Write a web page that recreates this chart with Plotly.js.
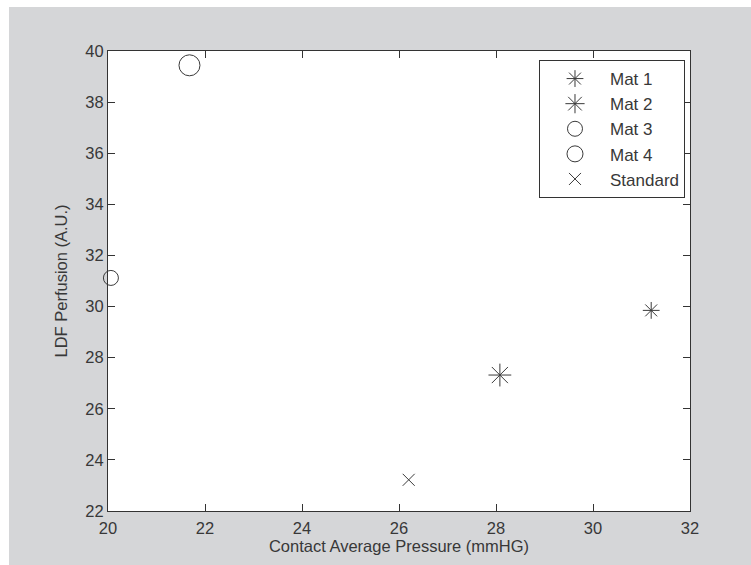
<!DOCTYPE html>
<html>
<head>
<meta charset="utf-8">
<script src="https://cdn.plot.ly/plotly-3.0.1.min.js"></script>
<style>
  html, body { margin: 0; padding: 0; background: #ffffff; width: 751px; height: 565px; overflow: hidden; }
  #chart { position: absolute; left: 9px; top: 7px; width: 742px; height: 558px; }
</style>
</head>
<body>
<div id="chart"></div>
<script>
// Data
const seriesNames = ["Mat 1", "Mat 2", "Mat 3", "Mat 4", "Standard"];
const mat1X = [31.2];   const mat1Y = [29.85];
const mat2X = [28.08];  const mat2Y = [27.32];
const mat3X = [20.06];  const mat3Y = [31.12];
const mat4X = [21.68];  const mat4Y = [39.44];
const stdX  = [26.2];   const stdY  = [23.22];
const xTicks = [20, 22, 24, 26, 28, 30, 32];
const yTicks = [22, 24, 26, 28, 30, 32, 34, 36, 38, 40];

const ink = '#3a3a3a';
const txt = '#383838';
const fontFam = '"Liberation Sans", Arial, sans-serif';

function mk(name, xs, ys, symbol, size) {
  return {
    type: 'scatter', mode: 'markers', name: name, x: xs, y: ys,
    cliponaxis: false,
    marker: { symbol: symbol, size: size, color: ink, line: { color: ink, width: 1 } }
  };
}

const data = [
  mk(seriesNames[0], mat1X, mat1Y, 'asterisk-open', 14),
  mk(seriesNames[1], mat2X, mat2Y, 'asterisk-open', 19),
  mk(seriesNames[2], mat3X, mat3Y, 'circle-open', 15),
  mk(seriesNames[3], mat4X, mat4Y, 'circle-open', 21),
  mk(seriesNames[4], stdX, stdY, 'x-thin-open', 12)
];

const axisCommon = {
  showgrid: false, zeroline: false, showline: true, linecolor: '#333333', linewidth: 1,
  mirror: 'ticks', ticks: 'inside', ticklen: 7, tickcolor: '#333333', tickwidth: 1,
  tickfont: { family: fontFam, size: 16.5, color: txt }, fixedrange: true
};

const layout = {
  width: 742, height: 558,
  paper_bgcolor: '#d5d6d8', plot_bgcolor: '#ffffff',
  margin: { l: 99, r: 61, t: 44, b: 54, pad: 0 },
  font: { family: fontFam, color: txt },
  xaxis: Object.assign({}, axisCommon, {
    range: [20, 32], tickmode: 'array', tickvals: xTicks, ticktext: xTicks.map(String),
    ticklabelstandoff: 2,
    title: { text: 'Contact Average Pressure (mmHG)', font: { family: fontFam, size: 16.5, color: txt }, standoff: 3 }
  }),
  yaxis: Object.assign({}, axisCommon, {
    range: [22, 40], tickmode: 'array', tickvals: yTicks, ticktext: yTicks.map(String),
    title: { text: 'LDF Perfusion (A.U.)', font: { family: fontFam, size: 16.5, color: txt }, standoff: 13 }
  }),
  showlegend: true,
  legend: {
    x: 0.9914, xanchor: 'right', y: 0.9804, yanchor: 'top',
    bgcolor: '#ffffff', bordercolor: '#333333', borderwidth: 1,
    font: { family: fontFam, size: 17, color: txt },
    itemwidth: 60, itemclick: false, itemdoubleclick: false
  }
};

Plotly.newPlot('chart', data, layout, { displayModeBar: false, staticPlot: true });
</script>
</body>
</html>
